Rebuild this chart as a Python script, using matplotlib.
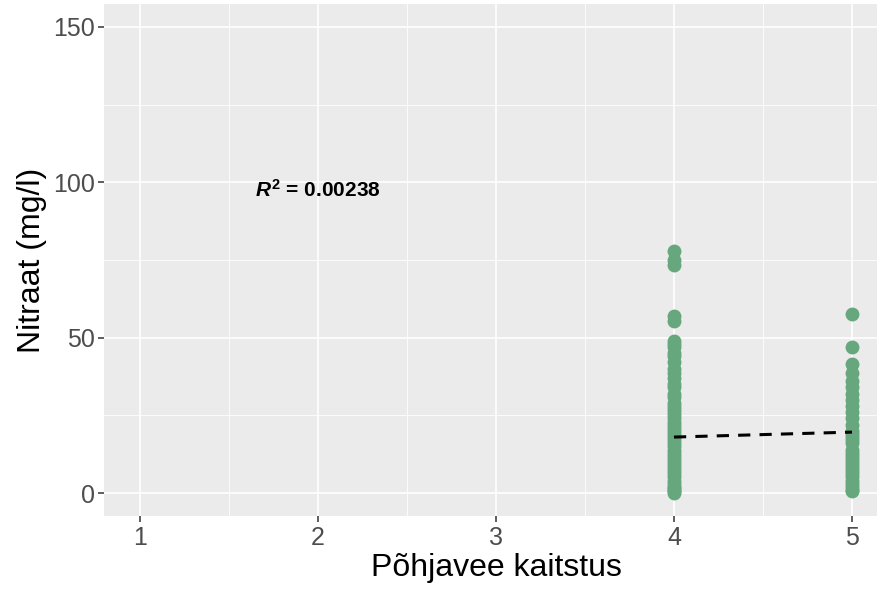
import matplotlib.pyplot as plt
from matplotlib.ticker import MultipleLocator

plt.rcParams['font.family'] = ['Liberation Sans', 'DejaVu Sans']
plt.rcParams['mathtext.fontset'] = 'custom'
plt.rcParams['mathtext.it'] = 'Liberation Sans:bold:italic'
plt.rcParams['mathtext.rm'] = 'Liberation Sans:bold'

# point values
kaitstus_4 = [78, 75, 73.5, 57, 55.5, 49, 48, 47, 45, 44, 42, 40, 38.5, 37, 35, 34,
              32, 31, 29, 28, 27, 26, 25, 24, 23, 22, 21, 20, 19, 18, 17, 16, 15,
              14, 13, 12, 11, 10, 9, 8, 7, 6, 5, 4, 3, 2, 1.5, 1, 0.5, 0]
kaitstus_5 = [57.5, 47, 41.5, 38.5, 36, 34, 32, 30, 28, 26, 24, 22, 20, 19, 18, 17,
              16, 14, 13, 12, 11, 10, 9, 8, 7, 6, 5, 4, 3, 2, 1, 0.5]

# fitted line end points and its label
fit_x = [4, 5]
fit_y = [18.0, 19.6]
r2_label = r'$R^2$ = 0.00238'

x_ticks = [1, 2, 3, 4, 5]
y_ticks = [0, 50, 100, 150]

fig = plt.figure(figsize=(8.78, 5.96), dpi=100)
ax = fig.add_axes([0.1189, 0.1337, 0.892, 0.8603])
ax.set_facecolor('#EBEBEB')

xs = [4] * len(kaitstus_4) + [5] * len(kaitstus_5)
ys = kaitstus_4 + kaitstus_5
ax.scatter(xs, ys, s=100, color='#67A77D', linewidths=0, zorder=3)
ax.plot(fit_x, fit_y, color='black', linestyle=(0, (4, 3)), linewidth=2.2, zorder=4)
ax.text(2.0, 97.5, r2_label, fontsize=15, fontweight='bold', ha='center', va='center', zorder=5)

ax.set_xlim(0.8, 5.2)
ax.set_ylim(-7.5, 157.5)
ax.set_xticks(x_ticks)
ax.set_yticks(y_ticks)
ax.xaxis.set_minor_locator(MultipleLocator(0.5))
ax.yaxis.set_minor_locator(MultipleLocator(25))

ax.grid(which='major', color='white', linewidth=1.2, zorder=0)
ax.grid(which='minor', color='white', linewidth=0.6, zorder=0)
ax.set_axisbelow(True)
for sp in ax.spines.values():
    sp.set_visible(False)

ax.tick_params(which='major', length=4, width=1.1, color='#333333', labelcolor='#4D4D4D',
               labelsize=18, pad=3)
ax.tick_params(which='minor', length=0)

ax.set_xlabel('Põhjavee kaitstus', fontsize=23, labelpad=2)
ax.set_ylabel('Nitraat (mg/l)', fontsize=23, labelpad=4)

fig.savefig('out.png', dpi=100)
